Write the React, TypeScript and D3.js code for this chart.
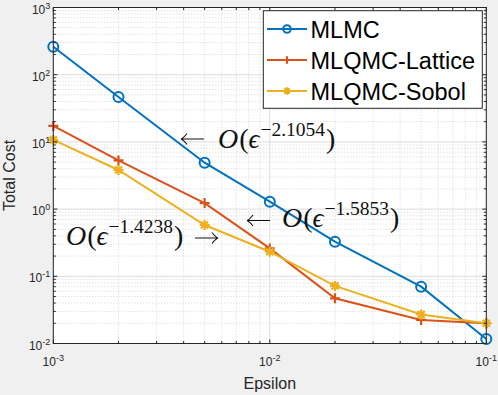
import React, { useEffect, useRef } from "react";
import * as d3 from "d3";

const epsilon = [0.001, 0.002, 0.005, 0.01, 0.02, 0.05, 0.1];
const mlmc = [261, 46.6, 4.9, 1.29, 0.327, 0.07, 0.0117];
const lattice = [17.3, 5.3, 1.23, 0.26, 0.047, 0.0224, 0.02];
const sobol = [10.7, 3.82, 0.58, 0.232, 0.072, 0.027, 0.02];
const seriesNames = ["MLMC", "MLQMC-Lattice", "MLQMC-Sobol"];
const seriesColors = ["#0072BD", "#D95319", "#EDB120"];
const markers = ["circle", "plus", "star"];
const xTickExp = [-3, -2, -1];
const yTickExp = [-2, -1, 0, 1, 2, 3];
const annotations = [
  { arrow: "left", exp: "\u22122.1054", tx: 218, y: 148, ax: 181, ay: 139 },
  { arrow: "right", exp: "\u22121.4238", tx: 66, y: 245, ax: 195, ay: 238 },
  { arrow: "left", exp: "\u22121.5853", tx: 282, y: 227, ax: 247, ay: 220.5 },
];

const W = 498, H = 395;
const margin = { left: 53.3, right: 498 - 486.3, top: 7.5, bottom: 395 - 343.5 };

function drawMarker(g: any, type: string, x: number, y: number, color: string, s: number) {
  if (type === "circle") {
    g.append("circle").attr("cx", x).attr("cy", y).attr("r", s)
      .attr("fill", "none").attr("stroke", color).attr("stroke-width", 2);
  } else if (type === "plus") {
    g.append("path").attr("d", `M${x - s},${y}H${x + s}M${x},${y - s}V${y + s}`)
      .attr("stroke", color).attr("stroke-width", 2.2);
  } else {
    const d = s * 0.707;
    g.append("path")
      .attr("d", `M${x - s},${y}H${x + s}M${x},${y - s}V${y + s}M${x - d},${y - d}L${x + d},${y + d}M${x - d},${y + d}L${x + d},${y - d}`)
      .attr("stroke", color).attr("stroke-width", 2.2);
  }
}

const App = () => {
  const ref = useRef(null);

  useEffect(() => {
    const svg = d3.select(ref.current);
    svg.selectAll("*").remove();
    const x = d3.scaleLog().domain([1e-3, 1e-1]).range([margin.left, W - margin.right]);
    const y = d3.scaleLog().domain([1e-2, 1e3]).range([H - margin.bottom, margin.top]);
    const [x0, x1] = x.range();
    const [y0, y1] = y.range();

    svg.append("rect").attr("width", W).attr("height", H).attr("fill", "#f0f0f0");
    svg.append("rect").attr("x", x0).attr("y", y1).attr("width", x1 - x0).attr("height", y0 - y1).attr("fill", "white");

    // minor grid
    const minorX: number[] = [];
    for (let e = -3; e < -1; e++) for (let k = 2; k <= 9; k++) minorX.push(k * Math.pow(10, e));
    const minorY: number[] = [];
    for (let e = -2; e < 3; e++) for (let k = 2; k <= 9; k++) minorY.push(k * Math.pow(10, e));
    const grid = svg.append("g");
    grid.selectAll("line.mx").data(minorX).join("line")
      .attr("x1", d => x(d)).attr("x2", d => x(d)).attr("y1", y0).attr("y2", y1)
      .attr("stroke", "#b8b8b8").attr("stroke-width", 0.6).attr("stroke-dasharray", "1,2");
    grid.selectAll("line.my").data(minorY).join("line")
      .attr("y1", d => y(d)).attr("y2", d => y(d)).attr("x1", x0).attr("x2", x1)
      .attr("stroke", "#b8b8b8").attr("stroke-width", 0.6).attr("stroke-dasharray", "1,2");
    grid.selectAll("line.Mx").data(xTickExp).join("line")
      .attr("x1", d => x(Math.pow(10, d))).attr("x2", d => x(Math.pow(10, d))).attr("y1", y0).attr("y2", y1)
      .attr("stroke", "#dcdcdc").attr("stroke-width", 1);
    grid.selectAll("line.My").data(yTickExp).join("line")
      .attr("y1", d => y(Math.pow(10, d))).attr("y2", d => y(Math.pow(10, d))).attr("x1", x0).attr("x2", x1)
      .attr("stroke", "#dcdcdc").attr("stroke-width", 1);

    // series
    const all = [mlmc, lattice, sobol];
    const line = d3.line<number>().x((_, i) => x(epsilon[i])).y(d => y(d));
    all.forEach((vals, si) => {
      const g = svg.append("g");
      g.append("path").attr("d", line(vals)).attr("fill", "none")
        .attr("stroke", seriesColors[si]).attr("stroke-width", 2);
      vals.forEach((v, i) => drawMarker(g, markers[si], x(epsilon[i]), y(v), seriesColors[si], 5));
    });

    // annotations
    const serif = "'Liberation Serif', 'DejaVu Serif', serif";
    annotations.forEach(a => {
      const t = svg.append("text").attr("x", a.tx).attr("y", a.y)
        .attr("font-family", serif).attr("font-size", 24).attr("fill", "#111");
      t.append("tspan").attr("font-style", "italic").attr("font-size", 28).text("O");
      t.append("tspan").attr("dx", 1).attr("font-size", 28).text("(");
      t.append("tspan").attr("font-style", "italic").attr("font-size", 27).text("\u03f5");
      t.append("tspan").attr("dy", -12).attr("dx", 1).attr("font-size", 19.5).text(a.exp);
      t.append("tspan").attr("dy", 12).attr("dx", 1).attr("font-size", 28).text(")");
      const len = 23;
      const tip = a.arrow === "left" ? a.ax : a.ax + len;
      const dir = a.arrow === "left" ? 1 : -1;
      svg.append("path")
        .attr("d", `M${a.ax},${a.ay}H${a.ax + len}` +
          `M${tip + dir * 6},${a.ay - 5.5}Q${tip + dir * 2.5},${a.ay - 1} ${tip},${a.ay}` +
          `M${tip + dir * 6},${a.ay + 5.5}Q${tip + dir * 2.5},${a.ay + 1} ${tip},${a.ay}`)
        .attr("fill", "none").attr("stroke", "#111").attr("stroke-width", 1.1);
    });

    // axes box and ticks
    const axis = svg.append("g");
    const majorX = xTickExp.map(e => Math.pow(10, e));
    const majorY = yTickExp.map(e => Math.pow(10, e));
    const tk = (len: number, data: number[], horiz: boolean) => {
      data.forEach(d => {
        if (horiz) {
          axis.append("line").attr("x1", x(d)).attr("x2", x(d)).attr("y1", y0).attr("y2", y0 - len).attr("stroke", "#262626");
          axis.append("line").attr("x1", x(d)).attr("x2", x(d)).attr("y1", y1).attr("y2", y1 + len).attr("stroke", "#262626");
        } else {
          axis.append("line").attr("y1", y(d)).attr("y2", y(d)).attr("x1", x0).attr("x2", x0 + len).attr("stroke", "#262626");
          axis.append("line").attr("y1", y(d)).attr("y2", y(d)).attr("x1", x1).attr("x2", x1 - len).attr("stroke", "#262626");
        }
      });
    };
    tk(4, majorX, true); tk(2.5, minorX, true);
    tk(4, majorY, false); tk(2.5, minorY, false);
    axis.append("rect").attr("x", x0).attr("y", y1).attr("width", x1 - x0).attr("height", y0 - y1)
      .attr("fill", "none").attr("stroke", "#262626").attr("stroke-width", 1);

    const font = "'Liberation Sans', Arial, sans-serif";
    xTickExp.forEach(e => {
      const t = axis.append("text").attr("x", x(Math.pow(10, e))).attr("y", y0 + 22)
        .attr("text-anchor", "middle").attr("font-family", font).attr("font-size", 12).attr("fill", "#262626");
      t.append("tspan").text("10");
      t.append("tspan").attr("dy", -5).attr("font-size", 9).text(String(e));
    });
    yTickExp.forEach(e => {
      const t = axis.append("text").attr("x", x0 - 3).attr("y", y(Math.pow(10, e)) + 6)
        .attr("text-anchor", "end").attr("font-family", font).attr("font-size", 12).attr("fill", "#262626");
      t.append("tspan").text("10");
      t.append("tspan").attr("dy", -5).attr("font-size", 9).text(String(e));
    });
    axis.append("text").attr("x", (x0 + x1) / 2).attr("y", H - 6).attr("text-anchor", "middle")
      .attr("font-family", font).attr("font-size", 16).attr("fill", "#262626").text("Epsilon");
    axis.append("text").attr("transform", `translate(15,${(y0 + y1) / 2}) rotate(-90)`).attr("text-anchor", "middle")
      .attr("font-family", font).attr("font-size", 16).attr("fill", "#262626").text("Total Cost");

    // legend
    const lg = svg.append("g");
    lg.append("rect").attr("x", 263.3).attr("y", 10.7).attr("width", 219).attr("height", 97.6)
      .attr("fill", "white").attr("stroke", "#262626").attr("stroke-width", 1);
    seriesNames.forEach((name, i) => {
      const cy = 29 + i * 31;
      lg.append("line").attr("x1", 267).attr("x2", 307).attr("y1", cy).attr("y2", cy)
        .attr("stroke", seriesColors[i]).attr("stroke-width", 2);
      drawMarker(lg, markers[i], 287, cy, seriesColors[i], 3.8);
      lg.append("text").attr("x", 310.5).attr("y", cy + 8.5).attr("font-family", font)
        .attr("font-size", 23.5).attr("fill", "black").text(name);
    });
  }, []);

  return (
    <svg ref={ref} width={W} height={H} style={{ position: "absolute", left: 0, top: 0 }} />
  );
};

export default App;
